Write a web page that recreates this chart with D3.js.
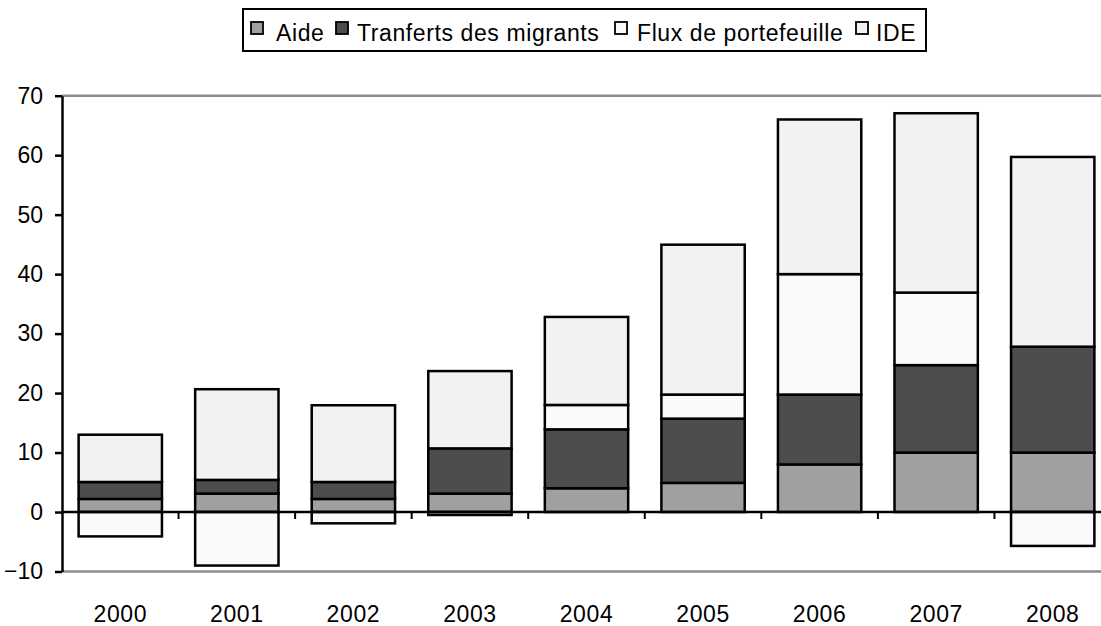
<!DOCTYPE html>
<html lang="en">
<head>
  <meta charset="UTF-8" />
  <title>Flux financiers</title>
  <script src="https://d3js.org/d3.v7.min.js"></script>
  <style>
    body { margin: 0; background: #fff; }
    svg { display: block; font-family: "Liberation Sans", Arial, sans-serif; }
  </style>
</head>
<body>
  <div id="chart"></div>
  <script>
    // data
    const years = ["2000", "2001", "2002", "2003", "2004", "2005", "2006", "2007", "2008"];
    const aide = [2.2, 3.1, 2.2, 3.1, 4.0, 4.9, 8.0, 10.0, 10.0];
    const transferts = [2.85, 2.3, 2.85, 7.6, 9.9, 10.8, 11.75, 14.7, 17.8];
    const flux = [-4.1, -9.0, -1.9, -0.5, 4.1, 4.05, 20.25, 12.2, -5.7];
    const ide = [7.95, 15.25, 12.9, 13.0, 14.8, 25.2, 26.0, 30.15, 31.9];
    const yTicks = [-10, 0, 10, 20, 30, 40, 50, 60, 70];

    const seriesNames = ["Aide", "Tranferts des migrants", "Flux de portefeuille", "IDE"];
    const seriesKeys = ["aide", "transferts", "flux", "ide"];
    const colors = ["#a0a0a0", "#4d4d4d", "#fafafa", "#f2f2f2"];

    const rows = years.map((y, i) => ({
      year: y, aide: aide[i], transferts: transferts[i], flux: flux[i], ide: ide[i]
    }));

    const W = 1101, H = 626;
    const svg = d3.select("#chart").append("svg")
      .attr("width", W).attr("height", H);

    const x = d3.scaleBand().domain(years).range([62, 1111])
      .paddingInner(0.285).paddingOuter(0.1425);
    const y = d3.scaleLinear().domain([-10, 70]).range([571.5, 95.7]);

    // top and bottom plot borders (grey)
    svg.append("g").selectAll("line").data([70, -10]).join("line")
      .attr("x1", 62).attr("x2", W)
      .attr("y1", d => y(d)).attr("y2", d => y(d))
      .attr("stroke", "#8c8c8c").attr("stroke-width", 2.5);

    const stack = d3.stack().keys(seriesKeys).offset(d3.stackOffsetDiverging);
    const stacked = stack(rows);

    svg.append("g").selectAll("g").data(stacked).join("g")
      .attr("fill", (d, i) => colors[i])
      .selectAll("rect").data(d => d).join("rect")
      .attr("x", d => x(d.data.year))
      .attr("width", x.bandwidth())
      .attr("y", d => y(Math.max(d[0], d[1])))
      .attr("height", d => Math.abs(y(d[0]) - y(d[1])))
      .attr("stroke", "#000").attr("stroke-width", 2.5);

    // x axis at zero
    const xAxis = svg.append("g");
    xAxis.append("line")
      .attr("x1", 62).attr("x2", W)
      .attr("y1", y(0)).attr("y2", y(0))
      .attr("stroke", "#000").attr("stroke-width", 2.4);
    xAxis.selectAll(".tk").data(years.slice(1)).join("line")
      .attr("class", "tk")
      .attr("x1", d => x(d) - x.step() * x.paddingInner() / 2)
      .attr("x2", d => x(d) - x.step() * x.paddingInner() / 2)
      .attr("y1", y(0)).attr("y2", y(0) + 7)
      .attr("stroke", "#000").attr("stroke-width", 2);
    svg.append("g").selectAll("text").data(years).join("text")
      .attr("x", d => x(d) + x.bandwidth() / 2)
      .attr("y", 622)
      .attr("text-anchor", "middle")
      .attr("font-size", 23)
      .attr("letter-spacing", 0.6)
      .text(d => d);

    // y axis
    const yAxis = svg.append("g").attr("transform", "translate(62,0)")
      .call(d3.axisLeft(y).tickValues(yTicks).tickSize(7).tickPadding(12).tickSizeOuter(0));
    yAxis.select(".domain").attr("stroke", "#000").attr("stroke-width", 2.5);
    yAxis.selectAll(".tick line").attr("stroke", "#000").attr("stroke-width", 2.5);
    yAxis.selectAll(".tick text")
      .attr("font-size", 23).attr("fill", "#000")
      .attr("font-family", "Liberation Sans, Arial, sans-serif");

    // legend
    const legend = svg.append("g");
    legend.append("rect")
      .attr("x", 243).attr("y", 9).attr("width", 683).attr("height", 42)
      .attr("fill", "#fff").attr("stroke", "#000").attr("stroke-width", 2);
    const squareX = [251, 336, 615, 856];
    const textX = [276, 357, 637, 876];
    const items = legend.selectAll("g").data(seriesNames).join("g");
    items.append("rect")
      .attr("x", (d, i) => squareX[i]).attr("y", 22)
      .attr("width", 12).attr("height", 12)
      .attr("fill", (d, i) => colors[i])
      .attr("stroke", "#000").attr("stroke-width", 1.8);
    items.append("text")
      .attr("x", (d, i) => textX[i]).attr("y", 41)
      .attr("font-size", 23)
      .attr("letter-spacing", 0.6)
      .text(d => d);
  </script>
</body>
</html>
